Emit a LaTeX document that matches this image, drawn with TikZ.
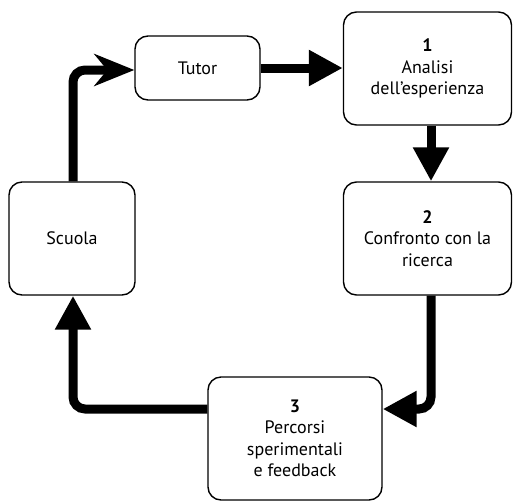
\documentclass[tikz,border=0pt]{standalone}
\usepackage{fontspec}
\setmainfont{PT Sans}
\usetikzlibrary{arrows.meta}
\tikzset{
  box/.style={draw=black, line width=1.4pt, fill=white, rounded corners=13pt,
    align=center, inner sep=0pt, font=\fontsize{18}{21.5}\selectfont},
  flow/.style={line width=9pt, rounded corners=12pt},
  filledhead/.style={-{Triangle[length=34pt, width=34pt]}},
  sharphead/.style={-{Stealth[length=40pt, width=32pt, inset=13pt]}}
}
\begin{document}
\begin{tikzpicture}[x=1pt, y=-1pt]
  \useasboundingbox (0,0) rectangle (513,501);
  % process boxes
  \node[box, minimum width=125pt, minimum height=64pt] (tutor) at (197.5,68) {Tutor};
  \node[box, minimum width=168pt, minimum height=113pt] (analisi) at (427.5,68.5)
    {\textbf{1}\\Analisi\\dell’esperienza};
  \node[box, minimum width=168pt, minimum height=113pt] (confronto) at (427.5,238.5)
    {\textbf{2}\\Confronto con la\\ricerca};
  \node[box, minimum width=126pt, minimum height=113pt] (scuola) at (72,238.5) {Scuola};
  \node[box, minimum width=174pt, minimum height=123pt] (percorsi) at (295,438.5)
    {\textbf{3}\\Percorsi\\sperimentali\\e feedback};
  % cycle connectors
  \draw[flow, filledhead] (tutor.east) -- (analisi.west |- tutor.east);
  \draw[flow, filledhead] (analisi.south -| 431,0) -- (confronto.north -| 431,0);
  \draw[flow, filledhead] (confronto.south -| 431,0) |- (percorsi.east |- 0,409);
  \draw[flow, filledhead] (percorsi.west |- 0,409) -| (scuola.south -| 73,0);
  \draw[flow, sharphead] (scuola.north -| 73,0) |- (tutor.west |- 0,70);
\end{tikzpicture}
\end{document}
